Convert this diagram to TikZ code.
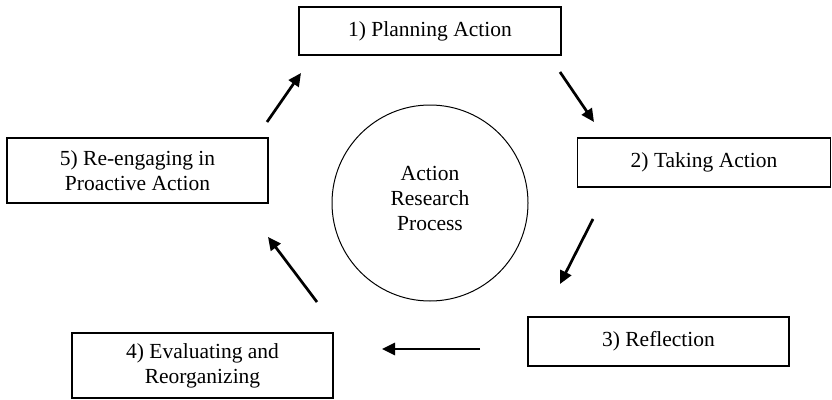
\documentclass[tikz,border=0pt]{standalone}
\usepackage{fontspec}
\setmainfont{Liberation Serif}
\usetikzlibrary{arrows.meta}
\begin{document}
\begin{tikzpicture}[x=1pt,y=-1pt,
  stepbox/.style={draw, line width=1.2pt, inner sep=0pt, align=center,
    font=\fontsize{21.5}{25}\selectfont},
  hub/.style={draw, circle, line width=1pt, inner sep=0pt, minimum size=196pt},
  hubtext/.style={align=center, font=\fontsize{21.5}{25}\selectfont, yshift=5pt},
  flow/.style={line width=2.7pt, -{Triangle[length=13pt,width=12pt]}}]
\useasboundingbox (0,0) rectangle (832,399);
\node[stepbox, minimum width=262pt, minimum height=48pt] (p1) at (430,31) {1) Planning Action};
\node[stepbox, minimum width=253pt, minimum height=49pt] (p2) at (704,162.5) {2) Taking Action};
\node[stepbox, minimum width=261pt, minimum height=49pt] (p3) at (658.5,341.5) {3) Reflection};
\node[stepbox, minimum width=261pt, minimum height=65pt] (p4) at (202.5,365.5) {4) Evaluating and\\Reorganizing};
\node[stepbox, minimum width=261pt, minimum height=65pt] (p5) at (137.5,170.5) {5) Re-engaging in\\Proactive Action};
\node[hub, label={[hubtext]center:Action\\Research\\Process}] (hub) at (430,203) {};
% arrow end points
\coordinate (a1s) at (560,72);  \coordinate (a1e) at (594,122);
\coordinate (a2s) at (593,219); \coordinate (a2e) at (560,284);
\coordinate (a3s) at (480,349); \coordinate (a3e) at (382,349);
\coordinate (a4s) at (317,302); \coordinate (a4e) at (268,237);
\coordinate (a5s) at (267,122); \coordinate (a5e) at (301,73);
\draw[flow] (a1s) -- (a1e);
\draw[flow] (a2s) -- (a2e);
\draw[flow] (a3s) -- (a3e);
\draw[flow] (a4s) -- (a4e);
\draw[flow] (a5s) -- (a5e);
\end{tikzpicture}
\end{document}
